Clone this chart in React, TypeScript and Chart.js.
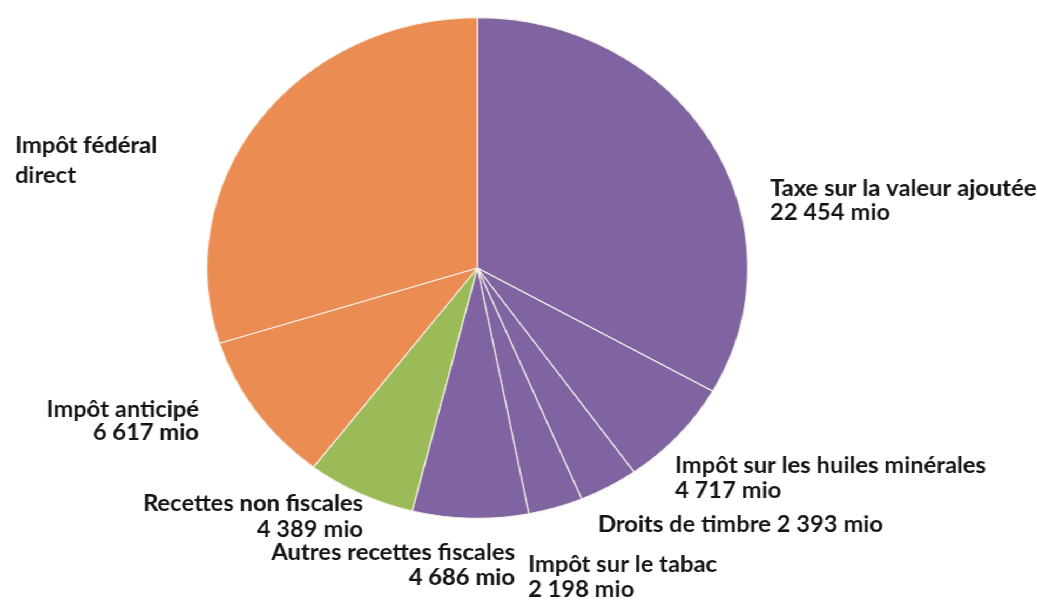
import React, { useEffect, useRef } from "react";
import { Chart, registerables } from "chart.js";

Chart.register(...registerables);

// ---- data ----
const categories = [
  "Taxe sur la valeur ajoutée",
  "Impôt sur les huiles minérales",
  "Droits de timbre",
  "Impôt sur le tabac",
  "Autres recettes fiscales",
  "Recettes non fiscales",
  "Impôt anticipé",
  "Impôt fédéral direct",
];
const values = [22454, 4717, 2393, 2198, 4686, 4389, 6617, 20200];
const showValue = [true, true, true, true, true, true, true, false];
const unit = "mio";

// ---- styling / layout ----
const PURPLE = "#8064A2";
const GREEN = "#9BBB59";
const ORANGE = "#EB8D53";
const sliceColors = [PURPLE, PURPLE, PURPLE, PURPLE, PURPLE, GREEN, ORANGE, ORANGE];

const W = 1037;
const H = 604;
const SX = 1.08; // horizontal stretch of the whole picture
const IW = Math.round(W / SX);

// label anchors in page pixels: x, baseline of first line, alignment, line height, line splits
const labelLayout = [
  { x: 770, y: 196, align: "left", lh: 24, lines: (n: string, v: string) => [n, v] },
  { x: 675, y: 473, align: "left", lh: 25, lines: (n: string, v: string) => [n, v] },
  { x: 598, y: 532, align: "left", lh: 25, lines: (n: string, v: string) => [n + " " + v] },
  { x: 528, y: 572, align: "left", lh: 25, lines: (n: string, v: string) => [n, v] },
  { x: 515, y: 560, align: "right", lh: 25, lines: (n: string, v: string) => [n, v] },
  { x: 363, y: 511, align: "right", lh: 26, lines: (n: string, v: string) => [n, v] },
  { x: 199, y: 417, align: "right", lh: 23, lines: (n: string, v: string) => [n, v] },
  { x: 15, y: 153, align: "left", lh: 30, lines: () => ["Impôt fédéral", "direct"] },
];

function fmt(v: number): string {
  return String(v).replace(/\B(?=(\d{3})+(?!\d))/g, " ");
}

const labelPlugin = {
  id: "sliceLabels",
  afterDraw(chart: any) {
    const ctx = chart.ctx as CanvasRenderingContext2D;
    ctx.save();
    ctx.font = "700 22px Lato";
    ctx.fillStyle = "#141414";
    ctx.textBaseline = "alphabetic";
    categories.forEach((name, i) => {
      const L = labelLayout[i];
      const v = showValue[i] ? `${fmt(values[i])} ${unit}` : "";
      const lines = L.lines(name, v);
      ctx.textAlign = L.align as CanvasTextAlign;
      lines.forEach((t, k) => {
        ctx.fillText(t, L.x / SX, L.y + k * L.lh);
      });
    });
    ctx.restore();
  },
};

export default function App() {
  const ref = useRef<HTMLCanvasElement | null>(null);
  useEffect(() => {
    document.body.style.margin = "0";
    const canvas = ref.current!;
    const cx = 442;
    const top = 17;
    const radius = 251;
    const chart = new Chart(canvas, {
      type: "pie",
      data: {
        labels: categories,
        datasets: [
          {
            data: values,
            backgroundColor: sliceColors,
            borderColor: "#f4efe8",
            borderWidth: 1.2,
          },
        ],
      },
      options: {
        responsive: false,
        animation: false,
        layout: {
          padding: {
            top: top,
            bottom: H - top - 2 * radius,
            left: 0,
            right: IW - 2 * cx,
          },
        },
        plugins: {
          legend: { display: false },
          tooltip: { enabled: false },
        },
      },
      plugins: [labelPlugin],
    });
    return () => chart.destroy();
  }, []);

  return (
    <div
      style={{
        position: "fixed",
        left: 0,
        top: 0,
        width: IW,
        height: H,
        background: "#fff",
        transform: `scaleX(${SX})`,
        transformOrigin: "0 0",
      }}
    >
      <canvas ref={ref} width={IW} height={H} style={{ width: IW, height: H, display: "block" }} />
    </div>
  );
}
